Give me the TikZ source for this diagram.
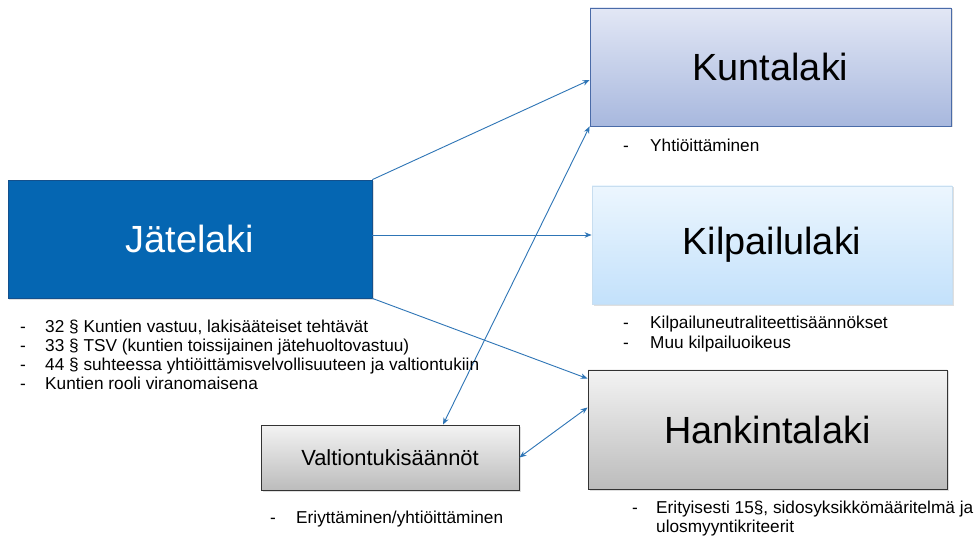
\documentclass[tikz,border=0pt]{standalone}
\usepackage{fontspec}
\setmainfont{Liberation Sans}
\usetikzlibrary{arrows.meta,shadows,calc}
\definecolor{jblue}{RGB}{5,102,178}
\definecolor{jborder}{RGB}{20,80,140}
\definecolor{arr}{RGB}{46,117,182}
\definecolor{kutop}{RGB}{226,231,245}
\definecolor{kubot}{RGB}{168,184,222}
\definecolor{kuborder}{RGB}{74,107,168}
\definecolor{kitop}{RGB}{236,246,254}
\definecolor{kibot}{RGB}{195,225,251}
\definecolor{kiborder}{RGB}{200,222,240}
\definecolor{gtop}{RGB}{243,243,243}
\definecolor{gbot}{RGB}{188,188,188}
\begin{document}
\begin{tikzpicture}[x=1bp,y=-1bp,
 box/.style={rectangle, inner sep=0pt, line width=0.8bp,
   drop shadow={opacity=0.25,shadow xshift=1.5bp,shadow yshift=-1.5bp}},
 title/.style={font=\fontsize{38}{38}\selectfont},
 link/.style={draw=arr, line width=0.9bp, -{Stealth[length=7bp,width=5.5bp]}},
 dlink/.style={draw=arr, line width=0.9bp, {Stealth[length=7bp,width=5.5bp]}-{Stealth[length=7bp,width=5.5bp]}},
 blist/.style={anchor=base west, inner sep=0pt, font=\fontsize{17.3}{19}\selectfont, align=left}
]
\useasboundingbox[fill=white] (0,0) rectangle (976,540);

% boxes
\node[box, title, fill=jblue, draw=jborder, text=white,
  minimum width=364bp, minimum height=118bp] (J) at (190,239) {Jätelaki};
\node[box, title, top color=kutop, bottom color=kubot, draw=kuborder,
  minimum width=361bp, minimum height=118bp] (K) at (770.5,67) {Kuntalaki};
\node[box, title, top color=kitop, bottom color=kibot, draw=kiborder,
  minimum width=360bp, minimum height=118bp] (P) at (772,245) {Kilpailulaki};
\node[box, title, top color=gtop, bottom color=gbot, draw=black!80,
  minimum width=359bp, minimum height=119bp] (H) at (767.5,429.5) {Hankintalaki};
\node[box, font=\fontsize{22}{22}\selectfont, top color=gtop, bottom color=gbot, draw=black!80,
  minimum width=258bp, minimum height=65bp] (V) at (390,457.5) {Valtiontukisäännöt};

% connectors
\draw[link] (J.north east) -- ([yshift=-13bp]K.west);
\draw[link] ([yshift=4bp]J.east) -- ([yshift=4bp]J.east -| P.west);
\draw[link] (J.south east) -- ([yshift=-9bp]H.north west);
\draw[dlink] ([xshift=53bp]V.north) -- (K.south west);
\draw[dlink] (V.east) -- ([yshift=22bp]H.west);

% bullet lists
\node[blist] (LJ) at (20,333) {\begin{tabular}[t]{@{}p{25bp}@{}l@{}}
- & 32 § Kuntien vastuu, lakisääteiset tehtävät\\
- & 33 § TSV (kuntien toissijainen jätehuoltovastuu)\\
- & 44 § suhteessa yhtiöittämisvelvollisuuteen ja valtiontukiin\\
- & Kuntien rooli viranomaisena
\end{tabular}};
\node[blist] (LK) at (623,152) {\begin{tabular}[t]{@{}p{27bp}@{}l@{}}
- & Yhtiöittäminen
\end{tabular}};
\node[blist] (LP) at (623,329) {\begin{tabular}[t]{@{}p{27bp}@{}l@{}}
- & Kilpailuneutraliteettisäännökset\\[1bp]
- & Muu kilpailuoikeus
\end{tabular}};
\node[blist] (LH) at (632,513) {\begin{tabular}[t]{@{}p{24bp}@{}l@{}}
- & Erityisesti 15§, sidosyksikkömääritelmä ja\\[1bp]
 & ulosmyyntikriteerit
\end{tabular}};
\node[blist] (LV) at (270,523) {\begin{tabular}[t]{@{}p{26bp}@{}l@{}}
- & Eriyttäminen/yhtiöittäminen
\end{tabular}};
\end{tikzpicture}
\end{document}
